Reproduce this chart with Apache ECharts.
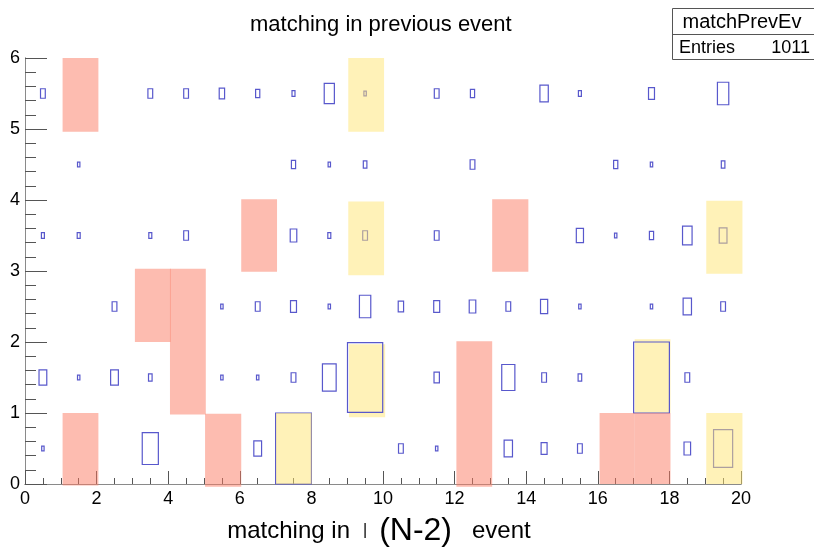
<!DOCTYPE html>
<html><head><meta charset="utf-8">
<script src="https://cdn.jsdelivr.net/npm/echarts@6/dist/echarts.min.js"></script>
<style>html,body{margin:0;padding:0;background:#fff}#c{width:814px;height:547px}</style>
</head><body><div id="c"></div>
<script>
// ---- data ----
const chartTitle = 'matching in previous event';
const statName = 'matchPrevEv';
const statEntries = 1011;
const xMin = 0, xMax = 20, yMin = 0, yMax = 6;
// bin contents, one array per y-bin (y 0-1 ... 5-6), 20 x-bins each
const row0 = [4,0,0,27,0,0,13,60,0,0,8,4,0,14,10,8,0,0,11,32];
const row1 = [13,4,13,6,0,4,4,8,23,59,0,9,0,22,8,6,0,60,8,0];
const row2 = [0,0,8,0,0,4,8,10,4,19,9,10,11,8,12,4,0,4,14,8];
const row3 = [5,5,0,5,8,0,0,11,5,8,0,8,0,0,0,12,4,7,16,13];
const row4 = [0,4,0,0,0,0,0,7,4,6,0,0,8,0,0,0,7,4,0,6];
const row5 = [8,0,0,8,8,9,7,5,17,4,0,8,7,0,14,5,0,10,0,19];
// highlighted regions [x0, y0, x1, y1]
const salmonRegions = [[1.05,-0.02,2.05,1.0],[1.05,4.96,2.05,6.0],[3.07,2.0,4.07,3.03],[4.05,0.98,5.05,3.03],
  [5.03,-0.04,6.04,0.99],[6.04,2.99,7.04,4.01],[12.05,-0.04,13.05,2.01],[13.05,2.99,14.06,4.01],
  [16.05,0.0,17.03,1.0],[17.03,0.0,18.03,1.0]];
const yellowRegionsBelow = [[9.05,0.94,10.06,1.97],[17.03,1.0,18.03,2.04]];
const yellowRegionsAbove = [[9.03,4.96,10.03,6.0],[9.03,2.94,10.03,3.98],[7.01,0.0,8.01,1.0],
  [19.03,2.96,20.04,3.99],[19.03,0.0,20.04,1.0]];

// ---- build ----
const rows = [row0,row1,row2,row3,row4,row5];
const boxData = [];
rows.forEach((r, yi) => r.forEach((v, xi) => { if (v > 0) boxData.push([xi, yi, v]); }));
const maxV = Math.max(...boxData.map(d => d[2]));
const FONT = 'Liberation Sans, Arial, Helvetica, sans-serif';

function rectRenderer(fill) {
  return function (params, api) {
    const p0 = api.coord([api.value(0), api.value(3)]);
    const p1 = api.coord([api.value(2), api.value(1)]);
    return { type: 'rect', shape: { x: p0[0], y: p0[1], width: p1[0] - p0[0], height: p1[1] - p0[1] },
      style: { fill: fill, stroke: null } };
  };
}
function boxRenderer(params, api) {
  const xi = api.value(0), yi = api.value(1), v = api.value(2);
  const c = api.coord([xi + 0.5, yi + 0.5]);
  const s = api.size([1, 1]);
  const f = v / maxV;
  const w = s[0] * f, h = s[1] * f;
  return { type: 'rect', shape: { x: c[0] - w / 2, y: c[1] - h / 2, width: w, height: h },
    style: { fill: 'none', stroke: '#5858cc', lineWidth: 1.2 } };
}

const chart = echarts.init(document.getElementById('c'), null, { renderer: 'canvas' });
const axisColor = '#8a8a8a';
const yellowFill = 'rgba(255,229,113,0.5)';
chart.setOption({
  animation: false,
  backgroundColor: '#fff',
  title: { text: chartTitle, left: 245, top: 9, textStyle: { fontFamily: FONT, fontSize: 22, fontWeight: 'normal', color: '#000' } },
  grid: { left: 25, right: 73, top: 58, bottom: 63, containLabel: false, outerBoundsMode: 'none' },
  xAxis: [{
    type: 'value', min: xMin, max: xMax, interval: 2,
    axisLine: { show: true, lineStyle: { color: axisColor, width: 1 } },
    axisTick: { show: true, inside: true, length: 13, lineStyle: { color: '#555' } },
    minorTick: { show: true, splitNumber: 4, length: 6, lineStyle: { color: '#555' } },
    axisLabel: { fontFamily: FONT, fontSize: 18, color: '#000', margin: 6 },
    splitLine: { show: false },
    name: '{a|matching in}{b||}{c|(N-2)}{d|event}',
    nameLocation: 'middle', nameGap: 31,
    nameTextStyle: { fontFamily: FONT, color: '#000', rich: {
      a: { fontFamily: FONT, fontSize: 24, color: '#000', padding: [0, 13, 0, 0] },
      b: { fontFamily: FONT, fontSize: 16, color: '#000', padding: [0, 12, 0, 0] },
      c: { fontFamily: FONT, fontSize: 32, color: '#000', padding: [0, 20, 0, 0] },
      d: { fontFamily: FONT, fontSize: 24, color: '#000', padding: [0, 8, 0, 0] }
    } }
  }, {
    type: 'value', min: xMin, max: xMax, position: 'top',
    axisLine: { show: true, lineStyle: { color: axisColor, width: 1 } },
    axisTick: { show: false }, axisLabel: { show: false }, splitLine: { show: false }
  }],
  yAxis: [{
    type: 'value', min: yMin, max: yMax, interval: 1,
    axisLine: { show: true, lineStyle: { color: axisColor, width: 1 } },
    axisTick: { show: true, inside: true, length: 22, lineStyle: { color: '#555' } },
    minorTick: { show: true, splitNumber: 5, length: 11, lineStyle: { color: '#555' } },
    axisLabel: { fontFamily: FONT, fontSize: 18, color: '#000', margin: 5 },
    splitLine: { show: false }
  }, {
    type: 'value', min: yMin, max: yMax, position: 'right',
    axisLine: { show: true, lineStyle: { color: axisColor, width: 1 } },
    axisTick: { show: false }, axisLabel: { show: false }, splitLine: { show: false }
  }],
  series: [
    { type: 'custom', name: 'yellowBelow', z: 1, clip: false, renderItem: rectRenderer(yellowFill),
      encode: { x: [0, 2], y: [1, 3] }, data: yellowRegionsBelow, silent: true },
    { type: 'custom', name: statName, z: 2, clip: false, renderItem: boxRenderer,
      encode: { x: 0, y: 1 }, data: boxData },
    { type: 'custom', name: 'salmon', z: 3, clip: false, renderItem: rectRenderer('rgba(251,121,97,0.5)'),
      encode: { x: [0, 2], y: [1, 3] }, data: salmonRegions, silent: true },
    { type: 'custom', name: 'yellowAbove', z: 3, clip: false, renderItem: rectRenderer(yellowFill),
      encode: { x: [0, 2], y: [1, 3] }, data: yellowRegionsAbove, silent: true }
  ],
  graphic: [{
    type: 'group', z: 100, children: [
      { type: 'rect', shape: { x: 672.5, y: 8.5, width: 160, height: 51 }, style: { fill: '#fff', stroke: '#555', lineWidth: 1 } },
      { type: 'line', shape: { x1: 672.5, y1: 34.5, x2: 820, y2: 34.5 }, style: { stroke: '#555', lineWidth: 1 } },
      { type: 'text', style: { x: 742, y: 22, text: statName, font: '20px ' + FONT, fill: '#000', align: 'center', verticalAlign: 'middle' } },
      { type: 'text', style: { x: 679, y: 48, text: 'Entries', font: '18px ' + FONT, fill: '#000', align: 'left', verticalAlign: 'middle' } },
      { type: 'text', style: { x: 810, y: 48, text: String(statEntries), font: '18px ' + FONT, fill: '#000', align: 'right', verticalAlign: 'middle' } }
    ]
  }]
});
</script>
</body></html>
